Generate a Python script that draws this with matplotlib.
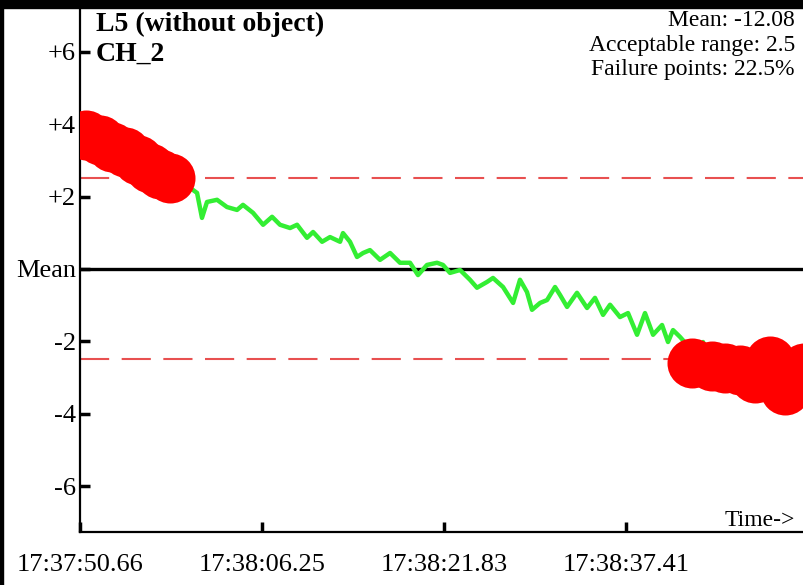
import matplotlib
matplotlib.use('Agg')
import matplotlib.pyplot as plt
import numpy as np
from matplotlib.patches import Rectangle

plt.rcParams['font.family'] = ['Liberation Serif', 'DejaVu Serif']

# seconds after 17:37:50.66, deviation from mean
times = [0.51, 1.71, 2.74, 3.85, 4.96, 5.99, 6.85, 7.70, 8.56, 9.42,
         10.02, 10.44, 10.87, 11.73, 12.58, 13.44, 13.95, 14.81, 15.67, 16.44,
         17.12, 17.98, 18.58, 19.43, 19.95, 20.72, 21.40, 22.26, 22.51, 23.11,
         23.71, 24.23, 24.82, 25.68, 26.54, 27.39, 28.25, 28.93, 29.70, 30.56,
         31.07, 31.67, 32.53, 33.38, 33.98, 34.84, 35.35, 36.21, 37.07, 37.66,
         38.26, 38.69, 39.38, 39.98, 40.66, 41.09, 41.69, 42.54, 43.40, 44.08,
         44.77, 45.37, 46.22, 46.91, 47.68, 48.36, 49.05, 49.82, 50.33, 50.76,
         51.36, 51.96, 52.39, 53.33, 54.10, 55.21, 56.50, 57.78, 59.06, 59.75,
         60.35, 61.21, 61.97]
values = [3.70, 3.56, 3.37, 3.23, 3.01, 2.79, 2.62, 2.52, 2.43, 2.24,
          2.10, 1.41, 1.85, 1.91, 1.71, 1.63, 1.77, 1.55, 1.22, 1.44,
          1.22, 1.13, 1.22, 0.86, 1.02, 0.75, 0.88, 0.75, 0.99, 0.75,
          0.33, 0.44, 0.52, 0.25, 0.44, 0.17, 0.17, -0.17, 0.11, 0.17,
          0.11, -0.11, -0.03, -0.30, -0.52, -0.36, -0.25, -0.50, -0.94, -0.30,
          -0.64, -1.13, -0.94, -0.86, -0.50, -0.72, -1.05, -0.66, -1.08, -0.80,
          -1.27, -0.99, -1.33, -1.22, -1.82, -1.22, -1.82, -1.55, -2.02, -1.69,
          -1.88, -2.10, -2.60, -2.02, -2.68, -2.73, -2.79, -3.01, -2.55, -3.07,
          -3.34, -2.85, -2.73]

mean_value = -12.08
acceptable = 2.5
failure_pct = 22.5
tick_times = [0, 15.59, 31.17, 46.75]
tick_labels = ['17:37:50.66', '17:38:06.25', '17:38:21.83', '17:38:37.41']
ytick_vals = [6, 4, 2, 0, -2, -4, -6]
ytick_labels = ['+6', '+4', '+2', 'Mean', '-2', '-4', '-6']

W, H = 804, 585
fig = plt.figure(figsize=(W / 100, H / 100), dpi=100)
ax = fig.add_axes([80 / W, 53 / H, 1 - 80 / W + 0.01, 524 / H])

t = np.array(times)
v = np.array(values)
out = np.abs(v) > acceptable

ax.plot(t, v, color='#33ee33', lw=3.2, zorder=3)
ax.plot(t[out], v[out], 'o', color='#ff0000', ms=36, mec='none', zorder=4)

ax.axhline(0, color='black', lw=2.4, zorder=2)
for lvl in (acceptable, -acceptable):
    ax.axhline(lvl, color='#e85050', lw=1.5, ls=(0, (14, 6)), zorder=2)

ax.set_xlim(0, 61.97 * (1 + 0.01 * W / 724))
ax.set_ylim(-7.27, 7.21)
ax.set_xticks(tick_times)
ax.set_xticklabels(tick_labels, fontsize=19)
ax.set_yticks(ytick_vals)
ax.set_yticklabels(ytick_labels, fontsize=19)
ax.tick_params(axis='both', direction='in', length=7, width=2.5, color='black')
ax.tick_params(axis='x', pad=16)
ax.tick_params(axis='y', pad=3)

for side in ('top', 'right'):
    ax.spines[side].set_visible(False)
ax.spines['left'].set_linewidth(1.6)
ax.spines['bottom'].set_linewidth(1.6)

fig.text(96 / W, 1 - 24 / H, 'L5 (without object)', fontsize=20, fontweight='bold', va='center')
fig.text(96 / W, 1 - 54 / H, 'CH_2', fontsize=20, fontweight='bold', va='center')
fig.text(795 / W, 1 - 45 / H,
         f'Mean: {mean_value}\nAcceptable range: {acceptable}\nFailure points: {failure_pct}%',
         fontsize=17, ha='right', va='center', linespacing=1.2)
fig.text(795 / W, 1 - 520 / H, 'Time->', fontsize=17, ha='right', va='center')

# black frame pieces
fig.patches.append(Rectangle((0, 1 - 8 / H), 1, 8 / H, transform=fig.transFigure,
                             color='black', zorder=10))
fig.patches.append(Rectangle((0, 0), 3 / W, 1, transform=fig.transFigure,
                             color='black', zorder=10))

fig.savefig('out.png', dpi=100)
